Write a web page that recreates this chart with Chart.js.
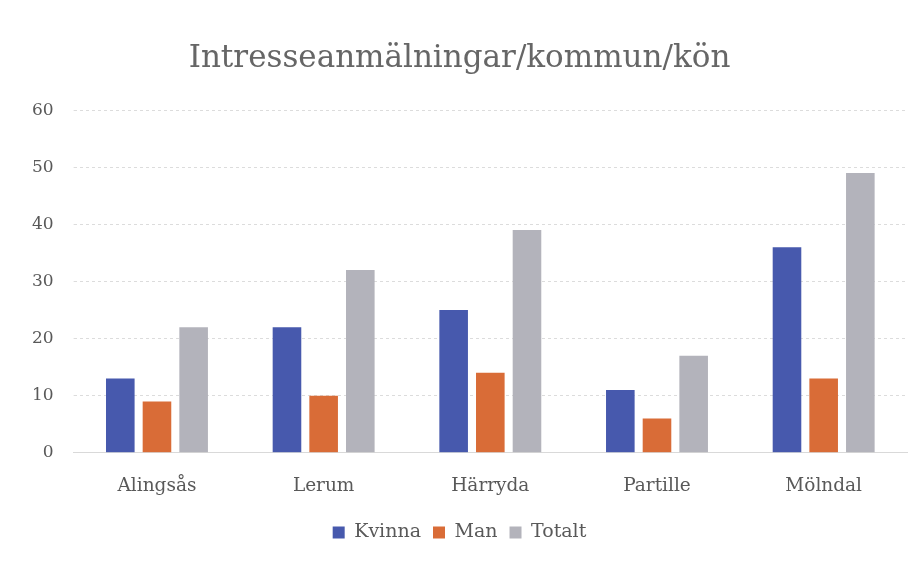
<!DOCTYPE html>
<html>
<head>
<meta charset="utf-8">
<script src="https://cdn.jsdelivr.net/npm/chart.js@4"></script>
<style>
  html, body { margin: 0; padding: 0; background: #fff; }
  #wrap { width: 923px; height: 563px; position: relative; }
</style>
</head>
<body>
<div id="wrap"><canvas id="chart"></canvas></div>
<script>
const categories = ['Alingsås', 'Lerum', 'Härryda', 'Partille', 'Mölndal'];
const kvinna = [13, 22, 25, 11, 36];
const man = [9, 10, 14, 6, 13];
const totalt = [22, 32, 39, 17, 49];
const yTicks = [0, 10, 20, 30, 40, 50, 60];

const serif = "'DejaVu Serif', 'Liberation Serif', serif";

new Chart(document.getElementById('chart').getContext('2d'), {
  type: 'bar',
  data: {
    labels: categories,
    datasets: [
      { label: 'Kvinna', data: kvinna, backgroundColor: '#4759ad' },
      { label: 'Man', data: man, backgroundColor: '#d96c37' },
      { label: 'Totalt', data: totalt, backgroundColor: '#b3b3bb' }
    ]
  },
  options: {
    responsive: true,
    maintainAspectRatio: false,
    animation: false,
    categoryPercentage: 0.66,
    barPercentage: 0.78,
    layout: { padding: { left: 12, right: 16, top: 10, bottom: 11 } },
    plugins: {
      title: {
        display: true,
        text: 'Intresseanmälningar/kommun/kön',
        color: '#666666',
        font: { family: serif, size: 31, weight: 'normal' },
        padding: { top: 30, bottom: 33 }
      },
      legend: {
        position: 'bottom',
        labels: {
          color: '#595959',
          font: { family: serif, size: 19 },
          boxWidth: 12,
          boxHeight: 12,
          padding: 12
        }
      },
      tooltip: { enabled: false }
    },
    scales: {
      x: {
        grid: { display: false },
        border: { display: true, color: '#d9d9d9' },
        ticks: { color: '#595959', font: { family: serif, size: 18.5 }, padding: 14 }
      },
      y: {
        min: 0,
        max: 60,
        afterBuildTicks: (axis) => { axis.ticks = yTicks.map(v => ({ value: v })); },
        grid: { color: '#dcdcdc', tickLength: 0 },
        border: { display: false, dash: [3, 3] },
        ticks: { color: '#595959', font: { family: serif, size: 17 }, padding: 20 }
      }
    }
  }
});
</script>
</body>
</html>
